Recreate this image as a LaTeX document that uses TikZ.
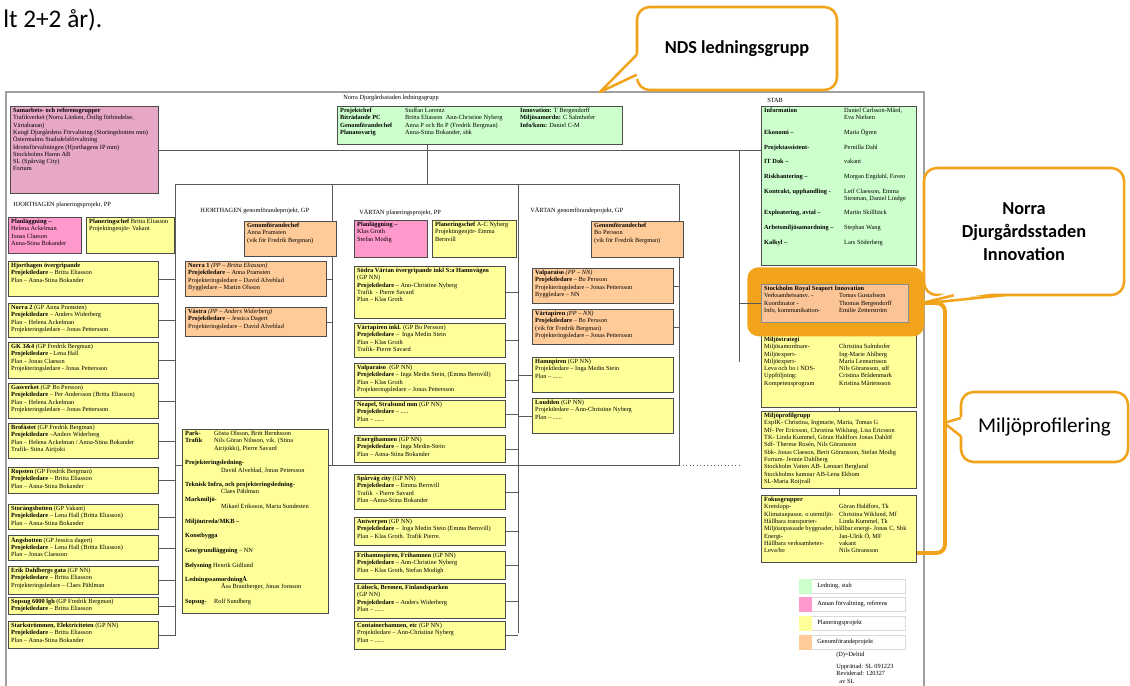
\documentclass[tikz,border=0pt]{standalone}
\usepackage{fontspec}
\setmainfont{Liberation Serif}
\newfontfamily\calfont{Carlito}
\usetikzlibrary{positioning,calc}

\newlength\pxu
\setlength\pxu{0.025cm}
% text of a box: width, height (px), content
\newcommand{\bx}[3]{\parbox[t][\dimexpr#2\pxu-2.4pt\relax][t]{\dimexpr#1\pxu-4pt\relax}{#3}}
\newcommand{\cl}[3][75]{\makebox[#1\pxu][l]{#2}#3}

\definecolor{stabgreen}{RGB}{204,255,204}
\definecolor{refpink}{RGB}{255,153,204}
\definecolor{samrpink}{RGB}{231,168,200}
\definecolor{planyellow}{RGB}{255,255,153}
\definecolor{genorange}{RGB}{255,204,153}
\definecolor{srsorange}{RGB}{250,196,150}
\definecolor{callorange}{RGB}{242,163,28}
\definecolor{framegray}{RGB}{160,160,160}

\begin{document}
\begin{tikzpicture}[x=0.025cm,y=-0.025cm,
  every node/.style={font=\fontsize{4.5}{5.2}\selectfont},
  box/.style={draw=black!70,line width=0.5pt,anchor=north west,inner xsep=2pt,inner ysep=1.2pt},
  pbox/.style={box,fill=planyellow},
  gbox/.style={box,fill=genorange},
  rbox/.style={box,fill=refpink},
  lbox/.style={box,fill=stabgreen},
  head/.style={anchor=west,inner sep=0pt},
  conn/.style={draw=black!65,line width=0.5pt},
  legw/.style={draw=black!15,fill=white,anchor=north west,minimum width=106\pxu,minimum height=14\pxu,inner sep=0pt},
  call/.style={draw=callorange,line width=1.8pt,fill=white,rounded corners=9pt,align=center,
    font=\calfont\bfseries\fontsize{13}{16.4}\selectfont},
  tail/.style={draw=callorange,line width=1.8pt,line join=round},
  hlmark/.style={draw=callorange,line width=2.8pt,rounded corners=6pt}]
\useasboundingbox (0,0) rectangle (1130,685);

\node[anchor=base west,inner sep=0pt,font=\calfont\fontsize{18}{20}\selectfont] (prev) at (3,27) {lt 2+2 år).};

% frame
\draw[framegray,line width=1pt] (6,686) -- (6,92) -- (924,92) -- (924,686);
\node[head] (ttl) at (343,98) {Norra Djurgårdsstaden ledningsgrupp};
\node[head] (stabttl) at (767,100) {STAB};

% bus lines
\coordinate (busA) at (175,184);
\coordinate (busB) at (332,184);
\coordinate (busC) at (518,184);
\coordinate (busD) at (679,184);
\coordinate (busS) at (739,150);
\coordinate (gpfork) at (427,184);
\coordinate (crossA) at (175,465);
\coordinate (crossD) at (679,465);
\coordinate (crossS) at (739,465);

% top level
\node[box,fill=samrpink] (samr) at (10,106) {\bx{148}{87}{\textbf{Samarbets- och referensgrupper}\\
  Trafikverket (Norra Länken, Östlig förbindelse,\\ Värtabanan)\\
  Kungl Djurgårdens Förvaltning (Storängsbotten mm)\\ Östermalms Stadsdelsförvaltning\\
  Idrottsförvaltningen (Hjorthagens IP mm)\\ Stockholms Hamn AB\\ SL (Spårväg City)\\ Fortum}};
\node[lbox] (ledn) at (337,106) {\bx{285}{38}{%
  \cl[65]{\textbf{Projektchef}}{\makebox[115\pxu][l]{Staffan Lorentz}\textbf{Innovation:} T Bergendorff}\\
  \cl[65]{\textbf{Biträdande PC}}{\makebox[115\pxu][l]{Britta Eliasson\ \ Ann-Christine Nyberg}\textbf{Miljösamordn:} C Salmhofer}\\
  \cl[65]{\textbf{Genomförandechef}}{\makebox[115\pxu][l]{Anna P och Bo P (Fredrik Bergman)}\textbf{Info/kom:} Daniel C-M}\\
  \cl[65]{\textbf{Planansvarig}}{Anna-Stina Bokander, sbk}}};
\draw[conn] (samr.east) -- (samr.east -| busS) -- (samr.east -| 761,0);
\draw[conn] (gpfork |- ledn.south) -- (gpfork);
\draw[conn] (busA) -- (busD) -- (crossD);
\draw[conn] (busA) -- (175,636);
\draw[conn] (busB) -- (crossA -| busB);
\draw[conn] (crossA) -- (crossD);
\draw[conn,dotted] (crossD) -- (crossS);
\draw[conn] (busC) -- (518,633);
\draw[conn] (busS) -- (739,362);

% HJORTHAGEN planeringsprojekt
\node[head] (hjpp) at (13,205) {HJORTHAGEN planeringsprojekt, PP};
\node[rbox] (hjplan) at (8,217) {\bx{73}{36}{\textbf{Planläggning –}\\ Helena Ackelman\\ Jonas Claeson\\ Anna-Stina Bokander}};
\node[pbox] (hjpc) at (86,217) {\bx{88}{36}{\textbf{Planeringschef} Britta Eliasson\\ Projektingenjör-\ Vakant}};
\node[pbox] (hjov) at (8,261) {\bx{150}{35}{\textbf{Hjorthagen övergripande}\\ \textbf{Projektledare} – Britta Eliasson\\ Plan – Anna-Stina Bokander}};
\node[pbox] (norra2) at (8,303) {\bx{150}{34}{\textbf{Norra 2} (GP Anna Pramsten)\\ \textbf{Projektledare} – Anders Widerberg\\ Plan – Helena Ackelman\\ Projekteringsledare – Jonas Pettersson}};
\node[pbox] (gk) at (8,342) {\bx{150}{36}{\textbf{GK 3\&4} (GP Fredrik Bergman)\\ \textbf{Projektledare} - Lena Hall\\ Plan – Jonas Claeson\\ Projekteringsledare -\ Jonas Pettersson}};
\node[pbox] (gasv) at (8,383) {\bx{150}{35}{\textbf{Gasverket} (GP Bo Persson)\\ \textbf{Projektledare} – Per Andersson (Britta Eliasson)\\ Plan – Helena Ackelman\\ Projekteringsledare – Jonas Pettersson}};
\node[pbox] (brof) at (8,423) {\bx{150}{35}{\textbf{Brofästet}\ (GP Fredrik Bergman)\\ \textbf{Projektledare} –Anders Widerberg\\ Plan – Helena Ackelman / Anna-Stina Bokander\\ Trafik- Stina Airijoki}};
\node[pbox] (rops) at (8,467) {\bx{150}{26}{\textbf{Ropsten} (GP Fredrik Bergman)\\ \textbf{Projektledare} – Britta Eliasson\\ Plan – Anna-Stina Bokander}};
\node[pbox] (storang) at (8,504) {\bx{150}{25}{\textbf{Storängsbotten} (GP Vakant)\\ \textbf{Projektledare} – Lena Hall (Britta Eliasson)\\ Plan – Anna-Stina Bokander}};
\node[pbox] (angs) at (8,535) {\bx{150}{25}{\textbf{Ängsbotten} (GP Jessica dagert)\\ \textbf{Projektledare} – Lena Hall (Britta Eliasson)\\ Plan – Jonas Claesson}};
\node[pbox] (erik) at (8,566) {\bx{150}{28}{\textbf{Erik Dahlbergs gata} (GP NN)\\ \textbf{Projektledare} – Britta Eliasson\\ Projekteringsledare – Claes Pählman}};
\node[pbox] (sopsug) at (8,597) {\bx{150}{17}{\textbf{Sopsug 6000 lgh} (GP Fredrik Bergman)\\ \textbf{Projektledare} – Britta Eliasson}};
\node[pbox] (stark) at (8,621) {\bx{150}{27}{\textbf{Starkströmmen, Elektriciteten} (GP NN)\\ \textbf{Projektledare} – Britta Eliasson\\ Plan – Anna-Stina Bokander}};
\draw[conn] (hjov.east) -- (hjov.east -| busA);
\draw[conn] (norra2.east) -- (norra2.east -| busA);
\draw[conn] (gk.east) -- (gk.east -| busA);
\draw[conn] (gasv.east) -- (gasv.east -| busA);
\draw[conn] (brof.east) -- (brof.east -| busA);
\draw[conn] (rops.east) -- (rops.east -| busA);
\draw[conn] (storang.east) -- (storang.east -| busA);
\draw[conn] (angs.east) -- (angs.east -| busA);
\draw[conn] (erik.east) -- (erik.east -| busA);
\draw[conn] (sopsug.east) -- (sopsug.east -| busA);
\draw[conn] (stark.east) -- (stark.east -| busA);

% HJORTHAGEN genomforandeprojekt
\node[head] (hjgp) at (200,211) {HJORTHAGEN genomförandeprojekt, GP};
\node[gbox] (hjgc) at (244,221) {\bx{92}{35}{\textbf{Genomförandechef}\\ Anna Pramsten\\ (vik för Fredrik Bergman)}};
\node[gbox] (norra1) at (185,261) {\bx{141}{35}{\textbf{Norra 1} \textit{(PP – Britta Eliasson)}\\ \textbf{Projektledare} – Anna Pramsten\\ Projekteringsledare – David Alveblad\\ Byggledare – Martin Olsson}};
\node[gbox] (vastra) at (185,307) {\bx{141}{29}{\textbf{Västra} \textit{(PP – Anders Widerberg)}\\ \textbf{Projektledare} – Jessica Dagert\\ Projekteringsledare – David Alveblad}};
\draw[conn] (norra1.east) -- (norra1.east -| busB);
\draw[conn] (vastra.east) -- (vastra.east -| busB);
\node[pbox] (resurs) at (182,429) {\bx{146}{184}{%
  \cl[29]{\textbf{Park-}}{Gösta Olsson, Britt Bernhsson}\\
  \cl[29]{\textbf{Trafik}}{Nils Göran Nilsson, vik. (Stina}\\ \hspace*{29\pxu}Airijokki), Pierre Savard\\[5.2pt]
  \textbf{Projekteringsledning-}\\ \hspace*{36\pxu}David Alveblad, Jonas Petersson\\[5.2pt]
  \textbf{Teknisk Infra, och projekteringsledning-}\\ \hspace*{36\pxu}Claes Pählman\\
  \textbf{Markmiljö-}\\ \hspace*{36\pxu}Mikael Eriksson, Maria Sundesten\\[5.2pt]
  \textbf{Miljöutreda/MKB –}\\[5.2pt]
  \textbf{Konstbygga}\\[5.2pt]
  \textbf{Geo/grundläggning} – NN\\[5.2pt]
  \textbf{Belysning} Henrik Gidlund\\[5.2pt]
  \textbf{LedningssamordningÅ}\\ \hspace*{36\pxu}Åsa Brantberger, Jonas Jonsson\\[5.2pt]
  \cl[29]{\textbf{Sopsug-}}{Rolf Sundberg}}};

% VARTAN planeringsprojekt
\node[head] (vpp) at (359,213) {VÄRTAN planeringsprojekt, PP};
\node[rbox] (vplan) at (354,220) {\bx{73}{37}{\textbf{Planläggning –}\\ Klas Groth\\ Stefan Modig}};
\node[pbox] (vpc) at (432,220) {\bx{84}{37}{\textbf{Planeringschef} A-C Nyberg\\ Projektingenjör- Emma\\ Bernvill}};
\node[pbox] (sodra) at (354,266) {\bx{151}{52}{\textbf{Södra Värtan övergripande inkl S:a Hamnvägen}\\ (GP NN)\\ \textbf{Projektledare} – Ann-Christine Nyberg\\ Trafik\ \ - Pierre Savard\\ Plan – Klas Groth}};
\node[pbox] (vpiren) at (354,323) {\bx{151}{34}{\textbf{Värtapiren inkl.} (GP Bo Persson)\\ \textbf{Projektledare} –\ \ Inga Medin Stein\\ Plan – Klas Groth\\ Trafik- Pierre Savard}};
\node[pbox] (valpp) at (354,363) {\bx{151}{34}{\textbf{Valparaiso}\ \ (GP NN)\\ \textbf{Projektledare} – Inga Medin Stein, (Emma Bernvill)\\ Plan – Klas Groth\\ Projekteringsledare – Jonas Pettersson}};
\node[pbox] (neapel) at (354,400) {\bx{151}{27}{\textbf{Neapel, Stralsund mm} (GP NN)\\ \textbf{Projektledare} – .....\\ Plan – ......}};
\node[pbox] (energi) at (354,435) {\bx{151}{27}{\textbf{Energihamnen} (GP NN)\\ \textbf{Projektledare} – Inga Medin-Stein\\ Plan – Anna-Stina Bokander}};
\node[pbox] (sparv) at (354,474) {\bx{151}{35}{\textbf{Spårväg city} (GP NN)\\ \textbf{Projektledare} – Emma Bernvill\\ Trafik\ \ - Pierre Savard\\ Plan –Anna-Stina Bokander}};
\node[pbox] (antw) at (354,517) {\bx{151}{28}{\textbf{Antwerpen} (GP NN)\\ \textbf{Projektledare} –\ \ Inga Medin Stein (Emma Bernvill)\\ Plan – Klas Groth. Trafik Pierre.}};
\node[pbox] (friham) at (354,551) {\bx{151}{28}{\textbf{Frihamnspiren, Frihamnen} (GP NN)\\ \textbf{Projektledare} – Ann-Christine Nyberg\\ Plan – Klas Groth, Stefan Modigh}};
\node[pbox] (lubeck) at (354,583) {\bx{151}{35}{\textbf{Lübeck, Bremen, Finlandsparken}\\ (GP NN)\\ \textbf{Projektledare} – Anders Widerberg\\ Plan – ......}};
\node[pbox] (contain) at (354,621) {\bx{151}{28}{\textbf{Containerhamnen, etc} (GP NN)\\ Projektledare – Ann-Christine Nyberg\\ Plan – ......}};
\draw[conn] (sodra.east) -- (sodra.east -| busC);
\draw[conn] (vpiren.east) -- (vpiren.east -| busC);
\draw[conn] (valpp.east) -- (valpp.east -| busC);
\draw[conn] (neapel.east) -- (neapel.east -| busC);
\draw[conn] (energi.east) -- (energi.east -| busC);
\draw[conn] (sparv.east) -- (sparv.east -| busC);
\draw[conn] (antw.east) -- (antw.east -| busC);
\draw[conn] (friham.east) -- (friham.east -| busC);
\draw[conn] (lubeck.east) -- (lubeck.east -| busC);
\draw[conn] (contain.east) -- (contain.east -| busC);

% VARTAN genomforandeprojekt
\node[head] (vgp) at (530,211) {VÄRTAN genomförandeprojekt, GP};
\node[gbox] (vgc) at (591,221) {\bx{92}{36}{\textbf{Genomförandechef}\\ Bo Persson\\ (vik för Fredrik Bergman)}};
\node[gbox] (valgp) at (532,268) {\bx{141}{35}{\textbf{Valparaiso} \textit{(PP – NN)}\\ \textbf{Projektledare} – Bo Persson\\ Projekteringsledare – Jonas Pettersson\\ Byggledare – NN}};
\node[gbox] (vtgp) at (532,309) {\bx{141}{35}{\textbf{Värtapiren}\ \textit{(PP – NN)}\\ \textbf{Projektledare} – Bo Persson\\ (vik för Fredrik Bergman)\\ Projekteringsledare – Jonas Pettersson}};
\node[pbox] (hamnp) at (532,357) {\bx{141}{35}{\textbf{Hamnpiren} (GP NN)\\ Projektledare – Inga Medin Stein\\ Plan – ......}};
\node[pbox] (loudd) at (532,398) {\bx{141}{35}{\textbf{Loudden} (GP NN)\\ Projektledare – Ann-Christine Nyberg\\ Plan – ......}};
\draw[conn] (valgp.east) -- (valgp.east -| busD);
\draw[conn] (vtgp.east) -- (vtgp.east -| busD);
\draw[conn] (hamnp.west) -- (hamnp.west -| busC);
\draw[conn] (loudd.west) -- (loudd.west -| busC);

% STAB
\node[lbox] (stab) at (761,106) {\bx{155}{159}{%
  \cl[80]{\textbf{Information}}{Daniel Carlsson-Mård,}\\ \hspace*{80\pxu}Eva Nielsen\\[5.2pt]
  \cl[80]{\textbf{Ekonomi –}}{Maria Ögren}\\[5.2pt]
  \cl[80]{\textbf{Projektassistent-}}{Pernilla Dahl}\\[5.2pt]
  \cl[80]{\textbf{IT Dok –}}{vakant}\\[5.2pt]
  \cl[80]{\textbf{Riskhantering –}}{Morgan Engdahl, Faveo}\\[5.2pt]
  \cl[80]{\textbf{Kontrakt, upphandling -}}{Leif Claesson, Emma}\\ \hspace*{80\pxu}Stenman, Daniel Lindge\\[5.2pt]
  \cl[80]{\textbf{Exploatering, avtal –}}{Martin Skillbäck}\\[5.2pt]
  \cl[80]{\textbf{Arbetsmiljösamordning –}}{Stephan Wang}\\[5.2pt]
  \cl[80]{\textbf{Kalkyl –}}{Lars Söderberg}}};
\node[pbox] (mstrat) at (761,335) {\bx{155}{72}{\textbf{Miljöstrategi}\\
  \cl{Miljösamordnare-}{Christina Salmhofer}\\ \cl{Miljöexpert-}{Ing-Marie Ahlberg}\\ \cl{Miljöexpert-}{Maria Lennartsson}\\
  \cl{Leva och bo i NDS-}{Nils Göransson, sdf}\\ \cl{Uppföljning:}{Cristina Brådenmark}\\ \cl{Kompetensprogram}{Kristina Mårtensson}}};
\node[pbox] (mprof) at (761,411) {\bx{155}{77}{\textbf{Miljöprofilgrupp}\\
  ExpIK- Christina, Ingmarie, Maria, Tomas G\\ Mf- Per Ericsson, Christina Wiklung, Lisa Ericsson\\
  TK- Linda Kummel, Göran Haldfors Jonas Dahlöf\\ Sdf- Therese Rosén, Nils Göransson\\
  Sbk- Jonas Claeson, Berit Göransson, Stefan Modig\\ Fortum- Jennie Dahlberg\\
  Stockholm Vatten AB- Lennart Berglund\\ Stockholms hamnar AB-Lena Ekbom\\ SL-Maria Roijvall}};
\node[pbox] (fokus) at (761,495) {\bx{155}{67}{\textbf{Fokusgrupper}\\
  \cl{Kretslopp-}{Göran Haldfors, Tk}\\ \cl{Klimatanpassn. o utemiljö-}{Christina Wiklund, Mf}\\
  \cl{Hållbara transporter-}{Linda Kummel, Tk}\\ Miljöanpassade byggnader, hållbar energi- Jonas C, Sbk\\
  \cl{Energi-}{Jan-Ulrik Ö, MF}\\ \cl{Hållbara verksamheter-}{vakant}\\ \cl{Leva/bo}{Nils Göransson}}};
\draw[conn] ($(mstrat.north west)+(0,27)$) -- ($(mstrat.north west)+(0,27)$ -| busS);
\draw[conn] (mstrat.south) -- (mprof.north);
\draw[conn] (mprof.south) -- (fokus.north);

% legend
\node[legw] (leg1) at (799,579) {};
\node[legw] (leg2) at (799,597) {};
\node[legw] (leg3) at (799,616) {};
\node[legw] (leg4) at (799,635) {};
\fill[stabgreen] (leg1.north west) rectangle ($(leg1.south west)+(13,0)$);
\fill[refpink] (leg2.north west) rectangle ($(leg2.south west)+(13,0)$);
\fill[planyellow] (leg3.north west) rectangle ($(leg3.south west)+(13,0)$);
\fill[genorange] (leg4.north west) rectangle ($(leg4.south west)+(13,0)$);
\node[head] at (817,586) {Ledning, stab};
\node[head] at (817,604) {Annan förvaltning, referens};
\node[head] at (817,623) {Planeringsprojekt};
\node[head] at (817,642) {Genomförandeprojekt};
\node[head] (deltid) at (836,655) {(D)=Deltid};
\node[anchor=north west,inner sep=0pt,align=left] (uppr) at (836,664) {Upprättad: SL 091223\\ Reviderad: 120327\\ \ \ av SL};

% callouts
\node[call,minimum width=200\pxu,minimum height=83\pxu] (ndsc) at (737,48.5) {NDS ledningsgrupp};
\coordinate (ndstip) at (600,92);
\fill[white] ($(ndsc.north west)+(5,46)$) -- (ndstip) -- ($(ndsc.north west)+(5,72)$) -- cycle;
\draw[tail] ($(ndsc.north west)+(1,49)$) -- (ndstip) -- ($(ndsc.north west)+(1,69)$);

\node[call,minimum width=200\pxu,minimum height=127\pxu] (ndic) at (1024,231.5) {Norra\\ Djurgårdsstaden\\ Innovation};
\coordinate (ndtip) at (918,304);
\fill[white] ($(ndic.south west)+(28,-5)$) -- (ndtip) -- ($(ndic.south west)+(84,-5)$) -- cycle;
\draw[tail] ($(ndic.south west)+(31,-1)$) -- (ndtip) -- ($(ndic.south west)+(81,-1)$);

\node[anchor=north west,fill=callorange,rounded corners=8pt,minimum width=177\pxu,minimum height=69\pxu] (srsmark) at (747,267) {};
\node[box,fill=srsorange,draw=black!45] (srs) at (761,284) {\bx{147}{38}{\textbf{Stockholm Royal Seaport Innovation}\\
  \cl{Verksamhetsansv. -}{Tomas Gustafsson}\\ \cl{Koordinator -}{Thomas Bergendorff}\\ \cl{Info, kommunikation-}{Emilie Zetterström}}};
\draw[conn] (srs.west) -- (srs.west -| busS);

\node[call,font=\calfont\fontsize{15}{17}\selectfont,minimum width=167\pxu,minimum height=70\pxu] (mpc) at (1044.5,427) {Miljöprofilering};
\coordinate (mptip) at (944,423);
\fill[white] ($(mpc.west)+(5,-11)$) -- (mptip) -- ($(mpc.west)+(5,11)$) -- cycle;
\draw[tail] ($(mpc.west)+(1,-9)$) -- (mptip) -- ($(mpc.west)+(1,9)$);
\draw[hlmark] (922,303) -- (945,303) -- (945,553) -- (917,553);
\end{tikzpicture}
\end{document}
